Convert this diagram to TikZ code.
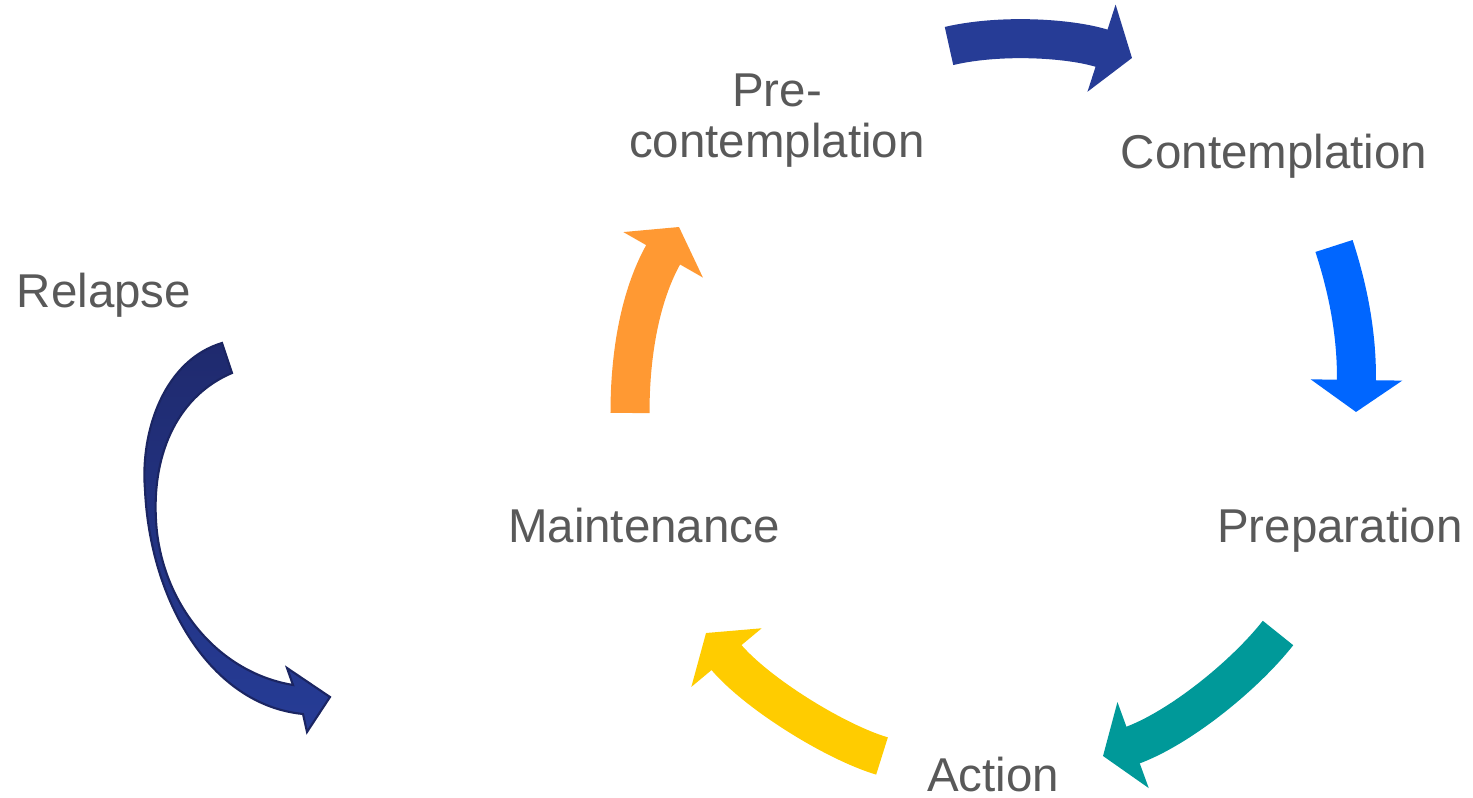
\documentclass[tikz,border=0pt]{standalone}
\usepackage{fontspec}
\setmainfont{Liberation Sans}
\usepackage{xcolor}
\usepackage{tikz}
\usetikzlibrary{positioning,arrows.meta}
\definecolor{StageGray}{RGB}{89,89,89}
\definecolor{ArrNavy}{RGB}{38,60,150}
\definecolor{ArrBlue}{RGB}{0,102,255}
\definecolor{ArrTeal}{RGB}{0,153,153}
\definecolor{ArrYellow}{RGB}{255,204,0}
\definecolor{ArrOrange}{RGB}{255,153,51}
\definecolor{RelDark}{RGB}{31,42,110}
\definecolor{RelEdge}{RGB}{27,37,98}

\begin{document}
\begin{tikzpicture}[x=0.01cm, y=-0.01cm]
	\tikzset{
		st/.style={font=\fontsize{13.5pt}{14.5pt}\selectfont, text=StageGray,
			inner sep=0pt, anchor=base},
		ar/.style={line width=0.39cm, -{Triangle[length=0.32cm, width=0.9cm]}}
	}
	\useasboundingbox (0,0) rectangle (1473,798);
	
	% stages
	\node[st] (rel) at (104,308) {Relapse};
	\node[st, align=center] (pre) at (777,158) {Pre-\\contemplation};
	\node[st] (con) at (1274,169) {Contemplation};
	\node[st] (prep) at (1340,543) {Preparation};
	\node[st] (act) at (993,791) {Action};
	\node[st] (main) at (644,543) {Maintenance};
	
	% arrow ends
	\coordinate (a1s) at (949,46);   \coordinate (a1e) at (1132,58);
	\coordinate (a2s) at (1334,246); \coordinate (a2e) at (1356,412);
	\coordinate (a3s) at (1278,633); \coordinate (a3e) at (1103,756);
	\coordinate (a4s) at (882,756);  \coordinate (a4e) at (706,633);
	\coordinate (a5s) at (630,413);  \coordinate (a5e) at (679,227);
	
	\draw[ar, ArrNavy] (a1s) .. controls (1000,34) and (1070,38) .. (a1e);
	\draw[ar, ArrBlue] (a2s) .. controls (1350,295) and (1357,340) .. (a2e);
	\draw[ar, ArrTeal] (a3s) .. controls (1245,675) and (1180,728) .. (a3e);
	\draw[ar, ArrYellow] (a4s) .. controls (835,742) and (756,693) .. (a4e);
	\draw[ar, ArrOrange] (a5s) .. controls (630,345) and (643,290) .. (a5e);
	
	% relapse ribbon
	\path[draw=RelEdge, line width=0.6pt, top color=RelDark, bottom color=ArrNavy]
		(222,343) .. controls (165,360) and (140,430) .. (145,490)
		.. controls (150,600) and (210,705) .. (303,714)
		-- (307,732) -- (330,697) -- (287,668) -- (293,685)
		.. controls (215,672) and (160,600) .. (156,520)
		.. controls (152,450) and (180,395) .. (232,373)
		-- cycle;
\end{tikzpicture}
\end{document}
